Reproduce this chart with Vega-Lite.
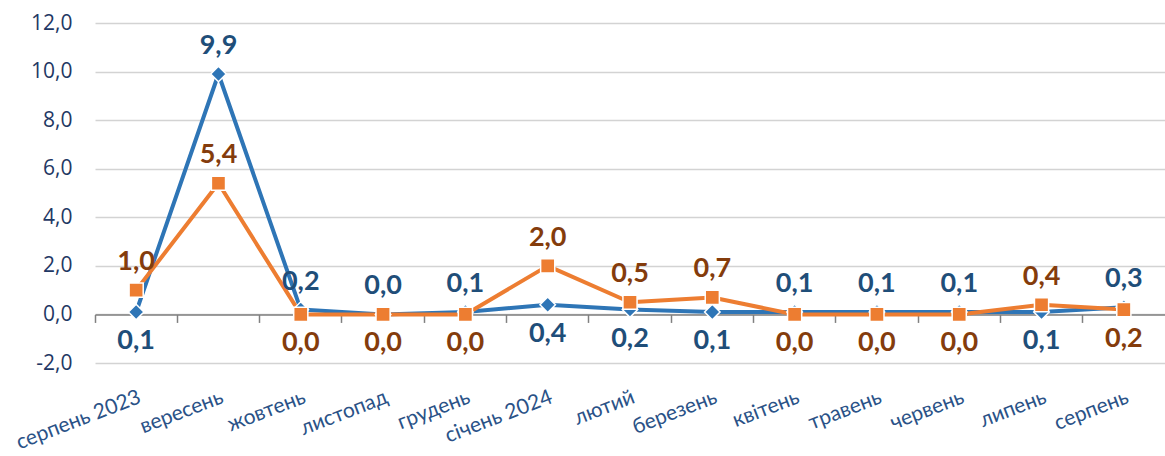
{
  "$schema": "https://vega.github.io/schema/vega-lite/v6.json",
  "autosize": {"type": "none"},
  "padding": {"left": 95, "top": 23, "right": 0, "bottom": 93},
  "width": 1070,
  "height": 340,
  "background": "white",
  "config": {
    "view": {"stroke": null},
    "locale": {"number": {"decimal": ",", "thousands": " ", "grouping": [3], "currency": ["", ""], "minus": "-"}},
    "font": "Lato"
  },
  "data": {
    "values": [
      {"month": "серпень 2023", "a": 0.1, "b": 1.0},
      {"month": "вересень", "a": 9.9, "b": 5.4},
      {"month": "жовтень", "a": 0.2, "b": 0.0},
      {"month": "листопад", "a": 0.0, "b": 0.0},
      {"month": "грудень", "a": 0.1, "b": 0.0},
      {"month": "січень 2024", "a": 0.4, "b": 2.0},
      {"month": "лютий", "a": 0.2, "b": 0.5},
      {"month": "березень", "a": 0.1, "b": 0.7},
      {"month": "квітень", "a": 0.1, "b": 0.0},
      {"month": "травень", "a": 0.1, "b": 0.0},
      {"month": "червень", "a": 0.1, "b": 0.0},
      {"month": "липень", "a": 0.1, "b": 0.4},
      {"month": "серпень", "a": 0.3, "b": 0.2}
    ]
  },
  "transform": [{"fold": ["a", "b"], "as": ["series", "value"]}],
  "layer": [
    {
      "mark": {"type": "line", "strokeWidth": 4, "strokeJoin": "round", "strokeCap": "round"},
      "encoding": {
        "x": {
          "field": "month",
          "type": "nominal",
          "sort": null,
          "bandPosition": 0.5,
          "scale": {"type": "band", "paddingInner": 0, "paddingOuter": 0},
          "axis": {
            "orient": "bottom",
            "offset": -48.57,
            "bandPosition": 0,
            "title": null,
            "labels": false,
            "grid": false,
            "domain": true,
            "domainColor": "#808080",
            "domainWidth": 1.5,
            "ticks": true,
            "tickColor": "#808080",
            "tickWidth": 1.5,
            "tickSize": 8
          }
        },
        "y": {
          "field": "value",
          "type": "quantitative",
          "scale": {"domain": [-2, 12], "nice": false, "zero": false},
          "axis": {
            "title": null,
            "values": [-2, 0, 2, 4, 6, 8, 10, 12],
            "format": ".1f",
            "labelFontSize": 21,
            "labelColor": "#1F3864",
            "labelFont": "Open Sans",
            "labelPadding": 23,
            "gridColor": "#D3D3D3",
            "gridWidth": 1.5,
            "domain": false,
            "ticks": false
          }
        },
        "color": {
          "field": "series",
          "type": "nominal",
          "scale": {"domain": ["a", "b"], "range": ["#2E75B6", "#ED7D31"]},
          "legend": null
        }
      }
    },
    {
      "mark": {"type": "point", "filled": true, "opacity": 1, "stroke": "white", "strokeWidth": 1.5},
      "encoding": {
        "x": {
          "field": "month",
          "type": "nominal",
          "sort": null,
          "bandPosition": 0.5,
          "axis": {
            "orient": "bottom",
            "title": null,
            "domain": false,
            "ticks": false,
            "grid": false,
            "labelAngle": -21,
            "labelAlign": "right",
            "labelBaseline": "top",
            "labelPadding": 23,
            "labelFontSize": 21,
            "labelColor": "#2A5287",
            "labelFont": "Lato"
          }
        },
        "y": {"field": "value", "type": "quantitative"},
        "fill": {
          "field": "series",
          "type": "nominal",
          "scale": {"domain": ["a", "b"], "range": ["#2E75B6", "#ED7D31"]},
          "legend": null
        },
        "shape": {
          "field": "series",
          "type": "nominal",
          "scale": {"domain": ["a", "b"], "range": ["diamond", "square"]},
          "legend": null
        },
        "size": {
          "field": "series",
          "type": "nominal",
          "scale": {"domain": ["a", "b"], "range": [240, 200]},
          "legend": null
        }
      }
    },
    {
      "transform": [{"filter": "!((datum.series == 'a' && datum.a < datum.b) || (datum.series == 'b' && datum.b <= datum.a && datum.a - datum.b < 1))"}],
      "mark": {"type": "text", "dy": -28, "baseline": "middle", "fontSize": 27, "fontWeight": "bold", "font": "Lato"},
      "encoding": {
        "x": {"field": "month", "type": "nominal", "sort": null, "bandPosition": 0.5, "axis": null},
        "y": {"field": "value", "type": "quantitative"},
        "text": {"field": "value", "type": "quantitative", "format": ".1f"},
        "color": {
          "field": "series",
          "type": "nominal",
          "scale": {"domain": ["a", "b"], "range": ["#1F4E79", "#843C0C"]},
          "legend": null
        }
      }
    },
    {
      "transform": [{"filter": "(datum.series == 'a' && datum.a < datum.b) || (datum.series == 'b' && datum.b <= datum.a && datum.a - datum.b < 1)"}],
      "mark": {"type": "text", "dy": 29, "baseline": "middle", "fontSize": 27, "fontWeight": "bold", "font": "Lato"},
      "encoding": {
        "x": {"field": "month", "type": "nominal", "sort": null, "bandPosition": 0.5, "axis": null},
        "y": {"field": "value", "type": "quantitative"},
        "text": {"field": "value", "type": "quantitative", "format": ".1f"},
        "color": {
          "field": "series",
          "type": "nominal",
          "scale": {"domain": ["a", "b"], "range": ["#1F4E79", "#843C0C"]},
          "legend": null
        }
      }
    }
  ],
  "resolve": {"axis": {"x": "independent"}, "scale": {"color": "independent", "fill": "independent"}}
}
